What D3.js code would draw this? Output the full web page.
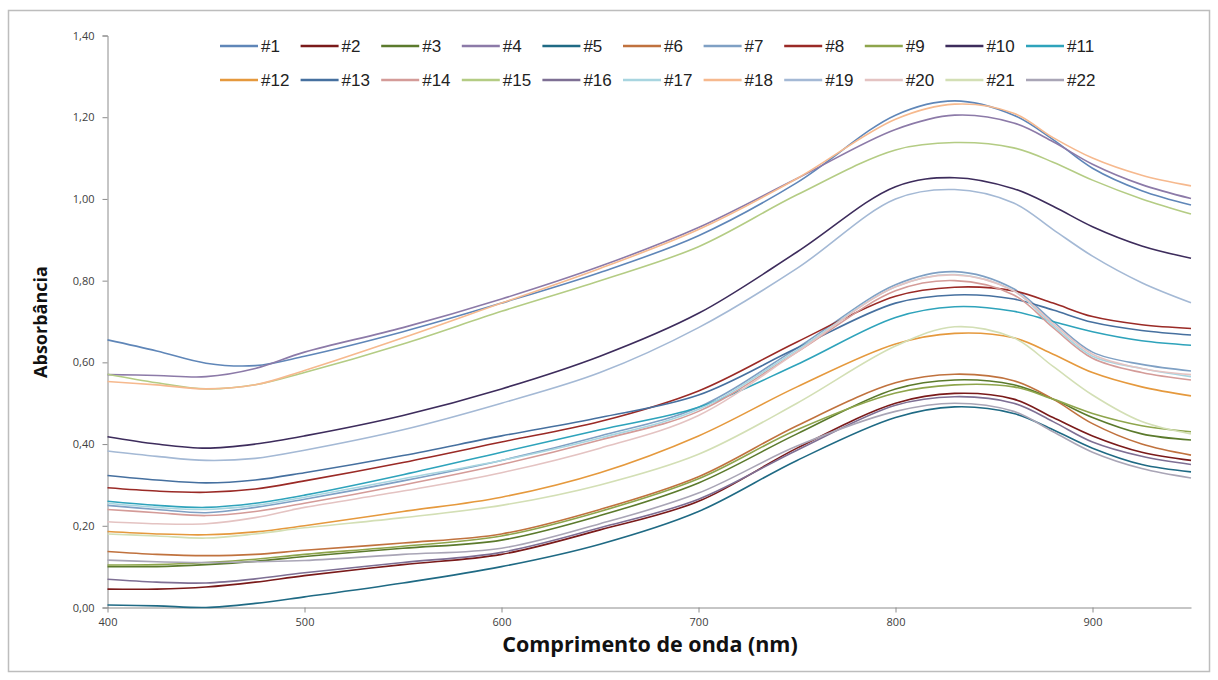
<!DOCTYPE html>
<html>
<head>
<meta charset="utf-8">
<script src="https://cdn.jsdelivr.net/npm/d3@7"></script>
<style>
  body { margin: 0; background: #fff; }
  svg { display: block; }
</style>
</head>
<body>
<div id="chart"></div>
<script>
var wavelengths = [400, 425, 450, 475, 500, 550, 600, 650, 700, 750, 800, 830, 860, 880, 900, 925, 950];

// absorbance of each sample at those wavelengths
var s1  = [0.655, 0.628, 0.598, 0.592, 0.615, 0.675, 0.745, 0.82, 0.91, 1.04, 1.205, 1.24, 1.205, 1.145, 1.075, 1.02, 0.985];
var s2  = [0.045, 0.045, 0.05, 0.062, 0.078, 0.105, 0.13, 0.19, 0.26, 0.39, 0.50, 0.524, 0.51, 0.465, 0.42, 0.38, 0.36];
var s3  = [0.10, 0.10, 0.105, 0.113, 0.125, 0.145, 0.165, 0.225, 0.305, 0.425, 0.535, 0.557, 0.545, 0.51, 0.465, 0.425, 0.41];
var s4  = [0.57, 0.568, 0.565, 0.585, 0.625, 0.685, 0.755, 0.835, 0.93, 1.05, 1.17, 1.205, 1.186, 1.14, 1.085, 1.035, 1.001];
var s5  = [0.006, 0.004, 0.0, 0.01, 0.026, 0.06, 0.10, 0.155, 0.235, 0.36, 0.465, 0.491, 0.475, 0.435, 0.39, 0.35, 0.332];
var s6  = [0.137, 0.13, 0.127, 0.13, 0.14, 0.158, 0.18, 0.24, 0.32, 0.445, 0.55, 0.571, 0.555, 0.51, 0.45, 0.40, 0.373];
var s7  = [0.25, 0.24, 0.232, 0.245, 0.265, 0.31, 0.36, 0.42, 0.49, 0.635, 0.79, 0.822, 0.78, 0.70, 0.625, 0.595, 0.579];
var s8  = [0.293, 0.285, 0.282, 0.29, 0.31, 0.355, 0.405, 0.455, 0.53, 0.65, 0.762, 0.784, 0.775, 0.745, 0.712, 0.692, 0.683];
var s9  = [0.104, 0.105, 0.11, 0.118, 0.13, 0.15, 0.175, 0.235, 0.315, 0.435, 0.525, 0.545, 0.54, 0.51, 0.475, 0.445, 0.43];
var s10 = [0.418, 0.40, 0.39, 0.40, 0.42, 0.47, 0.535, 0.615, 0.72, 0.87, 1.03, 1.052, 1.025, 0.982, 0.932, 0.885, 0.855];
var s11 = [0.26, 0.25, 0.245, 0.255, 0.275, 0.325, 0.38, 0.435, 0.49, 0.595, 0.71, 0.736, 0.725, 0.70, 0.675, 0.653, 0.642];
var s12 = [0.186, 0.18, 0.178, 0.185, 0.2, 0.235, 0.27, 0.33, 0.42, 0.54, 0.645, 0.671, 0.66, 0.62, 0.575, 0.54, 0.518];
var s13 = [0.323, 0.312, 0.305, 0.312, 0.33, 0.372, 0.42, 0.465, 0.52, 0.635, 0.745, 0.765, 0.755, 0.728, 0.698, 0.678, 0.667];
var s14 = [0.24, 0.232, 0.225, 0.235, 0.255, 0.30, 0.35, 0.41, 0.48, 0.625, 0.775, 0.80, 0.765, 0.685, 0.61, 0.575, 0.557];
var s15 = [0.571, 0.55, 0.535, 0.545, 0.575, 0.645, 0.725, 0.80, 0.883, 1.01, 1.12, 1.138, 1.125, 1.09, 1.046, 1.0, 0.963];
var s16 = [0.069, 0.062, 0.06, 0.07, 0.085, 0.11, 0.135, 0.195, 0.265, 0.385, 0.495, 0.516, 0.50, 0.455, 0.405, 0.37, 0.35];
var s17 = [0.255, 0.245, 0.24, 0.25, 0.27, 0.315, 0.36, 0.415, 0.485, 0.63, 0.785, 0.815, 0.775, 0.69, 0.615, 0.585, 0.565];
var s18 = [0.553, 0.545, 0.535, 0.545, 0.58, 0.66, 0.745, 0.83, 0.925, 1.05, 1.195, 1.232, 1.21, 1.15, 1.10, 1.058, 1.032];
var s19 = [0.383, 0.37, 0.36, 0.365, 0.385, 0.435, 0.50, 0.575, 0.685, 0.83, 1.0, 1.023, 0.99, 0.925, 0.86, 0.795, 0.746];
var s20 = [0.21, 0.205, 0.205, 0.22, 0.245, 0.285, 0.33, 0.39, 0.47, 0.625, 0.785, 0.814, 0.775, 0.695, 0.62, 0.585, 0.57];
var s21 = [0.18, 0.175, 0.17, 0.18, 0.195, 0.22, 0.25, 0.30, 0.375, 0.50, 0.64, 0.687, 0.66, 0.59, 0.52, 0.455, 0.425];
var s22 = [0.116, 0.112, 0.11, 0.112, 0.115, 0.13, 0.145, 0.205, 0.28, 0.395, 0.48, 0.50, 0.48, 0.43, 0.38, 0.34, 0.317];

var seriesNames = ["#1", "#2", "#3", "#4", "#5", "#6", "#7", "#8", "#9", "#10", "#11",
  "#12", "#13", "#14", "#15", "#16", "#17", "#18", "#19", "#20", "#21", "#22"];
var seriesValues = [s1, s2, s3, s4, s5, s6, s7, s8, s9, s10, s11,
  s12, s13, s14, s15, s16, s17, s18, s19, s20, s21, s22];
var seriesColors = ["#5f86b8", "#7a1a1a", "#5b7a2c", "#8c7aa8", "#1f6a84", "#c0723e",
  "#7fa0c4", "#9a2a26", "#8ea54c", "#3d2c5c", "#2ea3bb",
  "#e5993d", "#46709f", "#d49b98", "#b4cc84", "#7e6f94", "#a8d5e0",
  "#f6b98e", "#a4b9d5", "#e4c3c2", "#d3dfb5", "#a9a5b6"];

var yTicks = [0, 0.2, 0.4, 0.6, 0.8, 1.0, 1.2, 1.4];
var xTicks = [400, 500, 600, 700, 800, 900];

var W = 1218, H = 680;
var margin = { top: 35.5, right: 27, bottom: 72.5, left: 107.5 },
  width = W - margin.left - margin.right,
  height = H - margin.top - margin.bottom;

var svg = d3.select("#chart")
  .append("svg")
  .attr("width", W)
  .attr("height", H);

// chart frame
svg.append("rect")
  .attr("x", 8.5)
  .attr("y", 10.5)
  .attr("width", 1201)
  .attr("height", 661)
  .attr("fill", "none")
  .attr("stroke", "#bdbdbd")
  .attr("stroke-width", 1.5);

var g = svg.append("g")
  .attr("transform", "translate(" + margin.left + "," + margin.top + ")");

var x = d3.scaleLinear()
  .domain([400, 950])
  .range([0, width]);

var y = d3.scaleLinear()
  .domain([0, 1.4])
  .range([height, 0]);

var fmt = function (d) { return d3.format(".2f")(d).replace(".", ","); };

// Y axis
var yAxis = g.append("g")
  .call(d3.axisLeft(y).tickValues(yTicks).tickFormat(fmt).tickSize(5).tickPadding(8));
yAxis.selectAll("line, path").attr("stroke", "#8c8c8c");
yAxis.selectAll("text")
  .attr("fill", "#404040")
  .style("font-family", "'Open Sans', sans-serif")
  .style("font-size", "11px");

// X axis
var xAxis = g.append("g")
  .attr("transform", "translate(0," + height + ")")
  .call(d3.axisBottom(x).tickValues(xTicks).tickSize(5).tickPadding(6).tickSizeOuter(0));
xAxis.selectAll("line, path").attr("stroke", "#8c8c8c");
xAxis.selectAll("text")
  .attr("fill", "#404040")
  .style("font-family", "'Open Sans', sans-serif")
  .style("font-size", "11px");

// axis titles
svg.append("text")
  .attr("x", 650)
  .attr("y", 652)
  .attr("text-anchor", "middle")
  .style("font-family", "'Open Sans', sans-serif")
  .style("font-weight", "bold")
  .style("font-size", "21.5px")
  .attr("fill", "#111")
  .text("Comprimento de onda (nm)");

svg.append("text")
  .attr("transform", "translate(47,322) rotate(-90)")
  .attr("text-anchor", "middle")
  .style("font-family", "'Open Sans', sans-serif")
  .style("font-weight", "bold")
  .style("font-size", "18px")
  .attr("fill", "#111")
  .text("Absorbância");

// curves
var line = d3.line()
  .x(function (d) { return x(d[0]); })
  .y(function (d) { return y(d[1]); })
  .curve(d3.curveCatmullRom.alpha(0.5));

var series = seriesNames.map(function (name, i) {
  return {
    name: name,
    color: seriesColors[i],
    points: wavelengths.map(function (w, j) { return [w, seriesValues[i][j]]; })
  };
});

g.selectAll(".curve")
  .data(series)
  .enter()
  .append("path")
  .attr("class", "curve")
  .attr("fill", "none")
  .attr("stroke", function (d) { return d.color; })
  .attr("stroke-width", 1.6)
  .attr("d", function (d) { return line(d.points); });

// legend: two rows of 11
var legend = svg.append("g");
var item = legend.selectAll(".item")
  .data(series)
  .enter()
  .append("g")
  .attr("class", "item")
  .attr("transform", function (d, i) {
    var col = i % 11, row = Math.floor(i / 11);
    return "translate(" + (220 + col * 80.6) + "," + (46 + row * 34) + ")";
  });

item.append("line")
  .attr("x1", 0)
  .attr("x2", 38)
  .attr("y1", 0)
  .attr("y2", 0)
  .attr("stroke", function (d) { return d.color; })
  .attr("stroke-width", 2.5);

item.append("text")
  .attr("x", 41)
  .attr("y", 6)
  .style("font-family", "'Liberation Sans', Arial, sans-serif")
  .style("font-size", "17px")
  .attr("fill", "#222")
  .text(function (d) { return d.name; });
</script>
</body>
</html>
